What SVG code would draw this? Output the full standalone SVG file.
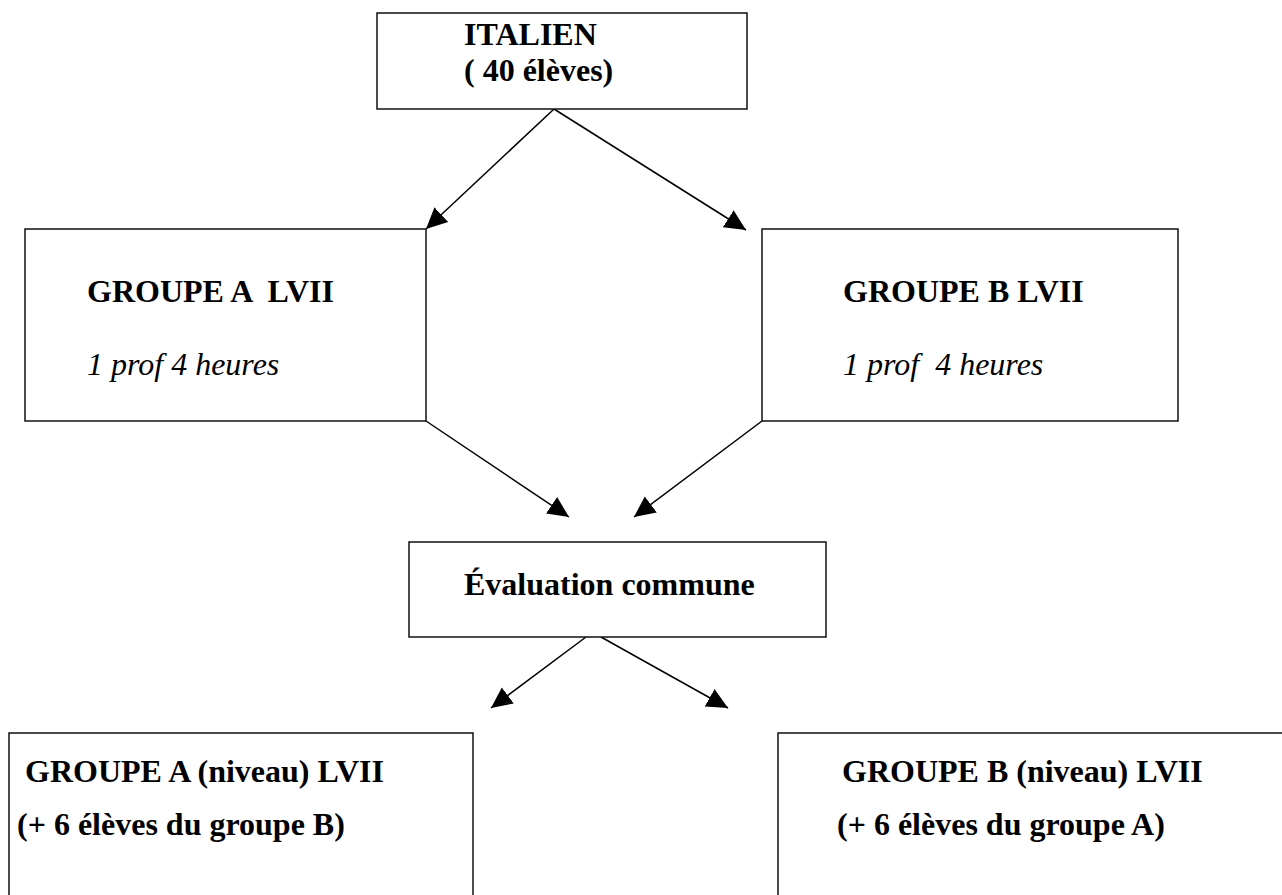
<svg xmlns="http://www.w3.org/2000/svg" width="1282" height="895" viewBox="0 0 1282 895">
<style>
.box{fill:#fff;stroke:#111;stroke-width:1.5}
.t{font-family:"Liberation Serif","Times New Roman",serif;font-size:32px;fill:#000;white-space:pre}
.b{font-weight:bold}
.i{font-style:italic}
.c{stroke:#000;stroke-width:1.5;fill:none;marker-end:url(#ah)}
</style>
<defs>
<marker id="ah" markerUnits="userSpaceOnUse" markerWidth="24" markerHeight="22" viewBox="0 0 24 22" refX="21" refY="11" orient="auto">
<path d="M0,1 L21,11 L0,21 z" fill="#000"/>
</marker>
</defs>
<rect width="1282" height="895" fill="#fff"/>
<g id="connectors">
<line class="c" x1="554" y1="109" x2="426" y2="229"/>
<line class="c" x1="554" y1="109" x2="746" y2="230"/>
<line class="c" x1="426" y1="421" x2="569" y2="517"/>
<line class="c" x1="762" y1="421" x2="634" y2="517"/>
<line class="c" x1="586" y1="637" x2="491" y2="708"/>
<line class="c" x1="601" y1="637" x2="728" y2="708"/>
</g>
<g id="italien">
<rect class="box" x="377" y="13" width="370" height="96"/>
<text class="t b" x="464" y="45">ITALIEN</text>
<text class="t b" x="464" y="81">( 40 élèves)</text>
</g>
<g id="groupeA">
<rect class="box" x="25" y="229" width="401" height="192"/>
<text class="t b" x="87" y="302">GROUPE A  LVII</text>
<text class="t i" x="87" y="375">1 prof 4 heures</text>
</g>
<g id="groupeB">
<rect class="box" x="762" y="229" width="416" height="192"/>
<text class="t b" x="843" y="302">GROUPE B LVII</text>
<text class="t i" x="843" y="375">1 prof  4 heures</text>
</g>
<g id="evaluation">
<rect class="box" x="409" y="542" width="417" height="95"/>
<text class="t b" x="464" y="595">Évaluation commune</text>
</g>
<g id="groupeAniveau">
<rect class="box" x="9" y="733" width="464" height="200"/>
<text class="t b" x="25" y="782">GROUPE A (niveau) LVII</text>
<text class="t b" x="17" y="835">(+ 6 élèves du groupe B)</text>
</g>
<g id="groupeBniveau">
<rect class="box" x="778" y="733" width="540" height="200"/>
<text class="t b" x="842" y="782">GROUPE B (niveau) LVII</text>
<text class="t b" x="837" y="835">(+ 6 élèves du groupe A)</text>
</g>
</svg>
